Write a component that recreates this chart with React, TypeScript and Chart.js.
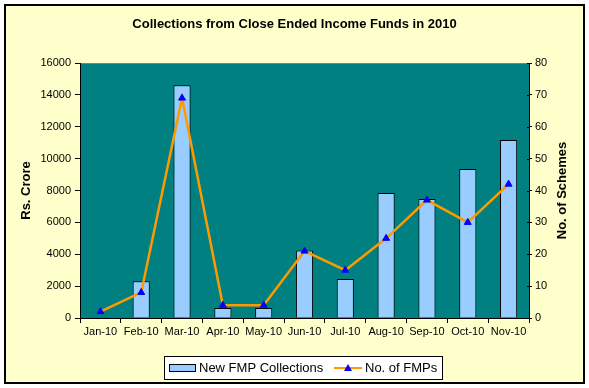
import React, { useEffect, useRef } from "react";
import { Chart, registerables } from "chart.js";

Chart.register(...registerables);

const months = ["Jan-10", "Feb-10", "Mar-10", "Apr-10", "May-10", "Jun-10", "Jul-10", "Aug-10", "Sep-10", "Oct-10", "Nov-10"];
const collections = [40, 2300, 14600, 620, 620, 4240, 2450, 7850, 7470, 9350, 11170];
const schemes = [2, 8, 69, 4, 4, 21, 15, 25, 37, 30, 42];
const leftAxisMax = 16000;
const leftAxisStep = 2000;
const rightAxisMax = 80;
const rightAxisStep = 10;
const titleText = "Collections from Close Ended Income Funds in 2010";
const leftAxisTitle = "Rs. Crore";
const rightAxisTitle = "No. of Schemes";
const barLabel = "New FMP Collections";
const lineLabel = "No. of FMPs";

const FONT = "Arial, 'Liberation Sans', sans-serif";

const decorPlugin = {
  id: "decor",
  beforeDraw(chart: any) {
    const { ctx, chartArea } = chart;
    ctx.save();
    ctx.fillStyle = "#ffffff";
    ctx.fillRect(0, 0, chart.width, chart.height);
    ctx.fillStyle = "#FFFFCC";
    ctx.fillRect(5, 5, 579, 378);
    ctx.strokeStyle = "#000000";
    ctx.lineWidth = 2;
    ctx.strokeRect(5, 5, 579, 378);
    ctx.fillStyle = "#008080";
    ctx.fillRect(chartArea.left, chartArea.top, chartArea.right - chartArea.left, chartArea.bottom - chartArea.top);
    ctx.strokeStyle = "#808080";
    ctx.lineWidth = 1;
    ctx.beginPath();
    ctx.moveTo(chartArea.left, chartArea.top + 0.5);
    ctx.lineTo(chartArea.right, chartArea.top + 0.5);
    ctx.stroke();
    ctx.restore();
  },
  afterDraw(chart: any) {
    const { ctx, chartArea } = chart;
    const midY = (chartArea.top + chartArea.bottom) / 2;
    ctx.save();
    ctx.fillStyle = "#000000";
    ctx.font = "bold 13px " + FONT;
    ctx.textAlign = "center";
    ctx.textBaseline = "middle";
    ctx.translate(26, midY);
    ctx.rotate(-Math.PI / 2);
    ctx.fillText(leftAxisTitle, 0, 0);
    ctx.restore();

    ctx.save();
    ctx.fillStyle = "#000000";
    ctx.font = "bold 13px " + FONT;
    ctx.textAlign = "center";
    ctx.textBaseline = "middle";
    ctx.translate(562, midY);
    ctx.rotate(-Math.PI / 2);
    ctx.fillText(rightAxisTitle, 0, 0);
    ctx.restore();

    // right axis inward tick marks
    const y1 = chart.scales.y1;
    ctx.save();
    ctx.strokeStyle = "#000";
    ctx.lineWidth = 1;
    y1.ticks.forEach((t: any) => {
      const yy = Math.round(y1.getPixelForValue(t.value)) + 0.5;
      ctx.beginPath();
      ctx.moveTo(chartArea.right - 2, yy);
      ctx.lineTo(chartArea.right, yy);
      ctx.stroke();
    });
    ctx.restore();

    // legend
    const ds = chart.data.datasets;
    ctx.save();
    ctx.fillStyle = "#ffffff";
    ctx.fillRect(164.5, 356.5, 278, 23);
    ctx.strokeStyle = "#000";
    ctx.lineWidth = 1;
    ctx.strokeRect(164.5, 356.5, 278, 23);
    ctx.fillStyle = "#99CCFF";
    ctx.fillRect(169.5, 364.5, 26, 7);
    ctx.strokeRect(169.5, 364.5, 26, 7);
    ctx.fillStyle = "#000";
    ctx.font = "13px " + FONT;
    ctx.textBaseline = "middle";
    ctx.textAlign = "left";
    ctx.fillText(ds[1].label, 199, 368);
    ctx.strokeStyle = "#FF9900";
    ctx.lineWidth = 2;
    ctx.beginPath();
    ctx.moveTo(334, 368);
    ctx.lineTo(362, 368);
    ctx.stroke();
    ctx.fillStyle = "#0000FF";
    ctx.beginPath();
    ctx.moveTo(348, 364);
    ctx.lineTo(352, 371);
    ctx.lineTo(344, 371);
    ctx.closePath();
    ctx.fill();
    ctx.fillStyle = "#000";
    ctx.fillText(ds[0].label, 365, 368);
    ctx.restore();
  },
};

export default function App() {
  const ref = useRef<HTMLCanvasElement | null>(null);
  useEffect(() => {
    if (!ref.current) return;
    const chart = new Chart(ref.current, {
      type: "bar",
      data: {
        labels: months,
        datasets: [
          {
            type: "line",
            label: lineLabel,
            data: schemes,
            yAxisID: "y1",
            borderColor: "#FF9900",
            borderWidth: 2.5,
            pointStyle: "triangle",
            pointRadius: 4,
            pointBackgroundColor: "#0000FF",
            pointBorderColor: "#0000FF",
            pointBorderWidth: 1,
            tension: 0,
            order: 0,
          } as any,
          {
            type: "bar",
            label: barLabel,
            data: collections,
            yAxisID: "y",
            backgroundColor: "#99CCFF",
            borderColor: "#000000",
            borderWidth: 1,
            barPercentage: 0.42,
            categoryPercentage: 1,
            order: 1,
          },
        ],
      },
      options: {
        responsive: false,
        animation: false,
        layout: { padding: { top: 5, bottom: 40, left: 0, right: 0 } },
        plugins: {
          legend: { display: false },
          tooltip: { enabled: false },
          title: {
            display: true,
            text: titleText,
            color: "#000",
            font: { family: FONT, size: 13, weight: "bold" },
            padding: { top: 12, bottom: 30.4 },
          },
        },
        scales: {
          x: {
            offset: true,
            grid: { offset: true, drawOnChartArea: false, drawTicks: true, tickLength: 5, color: "#000" },
            border: { color: "#000", width: 1 },
            ticks: { color: "#000", font: { family: FONT, size: 11 }, padding: 2, maxRotation: 0, autoSkip: false },
            afterFit: (s: any) => { s.height = 30; },
          },
          y: {
            position: "left",
            min: 0,
            max: leftAxisMax,
            grid: { drawOnChartArea: false, drawTicks: true, tickLength: 5, color: "#000" },
            border: { color: "#000", width: 1 },
            ticks: {
              stepSize: leftAxisStep,
              color: "#000",
              font: { family: FONT, size: 11 },
              padding: 4,
              callback: (v: any) => String(v),
            },
            afterFit: (s: any) => { s.width = 80; },
          },
          y1: {
            position: "right",
            min: 0,
            max: rightAxisMax,
            grid: { drawOnChartArea: false, drawTicks: true, tickLength: 3, color: "#000" },
            border: { color: "#000", width: 1 },
            ticks: {
              stepSize: rightAxisStep,
              color: "#000",
              font: { family: FONT, size: 11 },
              padding: 3,
              callback: (v: any) => String(v),
            },
            afterFit: (s: any) => { s.width = 60; },
          },
        },
      },
      plugins: [decorPlugin],
    });
    return () => chart.destroy();
  }, []);
  return (
    <div style={{ position: "absolute", left: 0, top: 0, width: 589, height: 388 }}>
      <canvas ref={ref} width={589} height={388} style={{ display: "block" }} />
    </div>
  );
}
